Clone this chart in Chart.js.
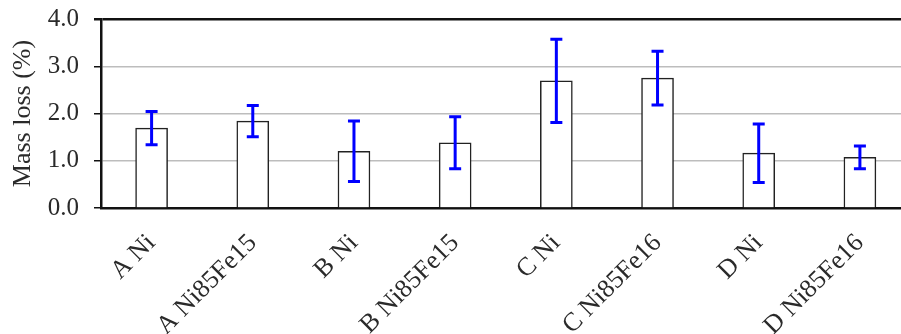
<!DOCTYPE html>
<html>
<head>
<meta charset="utf-8">
<script src="https://cdn.jsdelivr.net/npm/chart.js@4"></script>
<style>
  html, body { margin: 0; padding: 0; background: #fff; overflow: hidden; }
  #wrap { width: 901px; height: 334px; overflow: hidden; }
</style>
</head>
<body>
<div id="wrap"><canvas id="massLossChart" width="912" height="334"></canvas></div>
<script>
// Échantillons et pertes de masse moyennes (%)
const samples = ['A Ni', 'A Ni85Fe15', 'B Ni', 'B Ni85Fe15', 'C Ni', 'C Ni85Fe16', 'D Ni', 'D Ni85Fe16'];
const massLoss = [1.69, 1.84, 1.20, 1.38, 2.69, 2.75, 1.16, 1.07];
// Écart-type de chaque mesure
const massLossErr = [0.35, 0.33, 0.64, 0.55, 0.88, 0.57, 0.62, 0.24];
const yTicks = [0, 1, 2, 3, 4];

const serif = "'Liberation Serif', 'DejaVu Serif', serif";

// Barres d'erreur dessinées par-dessus les barres
const errorBars = {
    id: 'errorBars',
    afterDatasetsDraw(chart) {
        const { ctx, scales: { y } } = chart;
        const meta = chart.getDatasetMeta(0);
        ctx.save();
        ctx.strokeStyle = '#0000ff';
        ctx.lineWidth = 3;
        meta.data.forEach((bar, i) => {
            const hi = y.getPixelForValue(massLoss[i] + massLossErr[i]);
            const lo = y.getPixelForValue(massLoss[i] - massLossErr[i]);
            const cap = 6;
            ctx.beginPath();
            ctx.moveTo(bar.x, hi);
            ctx.lineTo(bar.x, lo);
            ctx.moveTo(bar.x - cap, hi);
            ctx.lineTo(bar.x + cap, hi);
            ctx.moveTo(bar.x - cap, lo);
            ctx.lineTo(bar.x + cap, lo);
            ctx.stroke();
        });
        ctx.restore();
    }
};

const ctx = document.getElementById('massLossChart').getContext('2d');
new Chart(ctx, {
    type: 'bar',
    data: {
        labels: samples,
        datasets: [{
            label: 'Mass loss',
            data: massLoss,
            backgroundColor: '#ffffff',
            borderColor: '#222222',
            borderWidth: 1.5,
            barThickness: 32
        }]
    },
    options: {
        responsive: false,
        animation: false,
        devicePixelRatio: 1,
        layout: { padding: { top: 19, right: 1.5, left: 0, bottom: 0 } },
        plugins: {
            legend: { display: false },
            tooltip: { enabled: false }
        },
        scales: {
            x: {
                grid: { display: false },
                border: { display: true, color: '#111111', width: 2.5 },
                ticks: {
                    color: '#2a2a2a',
                    font: { family: serif, size: 26 },
                    minRotation: 45,
                    maxRotation: 45,
                    padding: 12
                },
                afterFit: (scale) => { scale.height = 126; }
            },
            y: {
                min: 0,
                max: 4,
                afterBuildTicks: (scale) => { scale.ticks = yTicks.map(v => ({ value: v })); },
                grid: {
                    color: (c) => c.tick && c.tick.value === 4 ? '#111111' : '#bdbdbd',
                    lineWidth: (c) => c.tick && c.tick.value === 4 ? 2.5 : 1.5,
                    tickColor: '#111111',
                    tickLength: 7,
                    drawTicks: true
                },
                border: { display: true, color: '#111111', width: 2.5 },
                ticks: {
                    color: '#2a2a2a',
                    font: { family: serif, size: 25 },
                    padding: 15,
                    callback: (v) => Number(v).toFixed(1)
                },
                title: {
                    display: true,
                    text: 'Mass loss (%)',
                    color: '#2a2a2a',
                    font: { family: serif, size: 26 },
                    padding: { top: 8, bottom: 0 }
                },
                afterFit: (scale) => {
                    scale.width = 101;
                    scale.paddingTop = 0;
                    scale.paddingBottom = 0;
                }
            }
        }
    },
    plugins: [errorBars]
});
</script>
</body>
</html>
